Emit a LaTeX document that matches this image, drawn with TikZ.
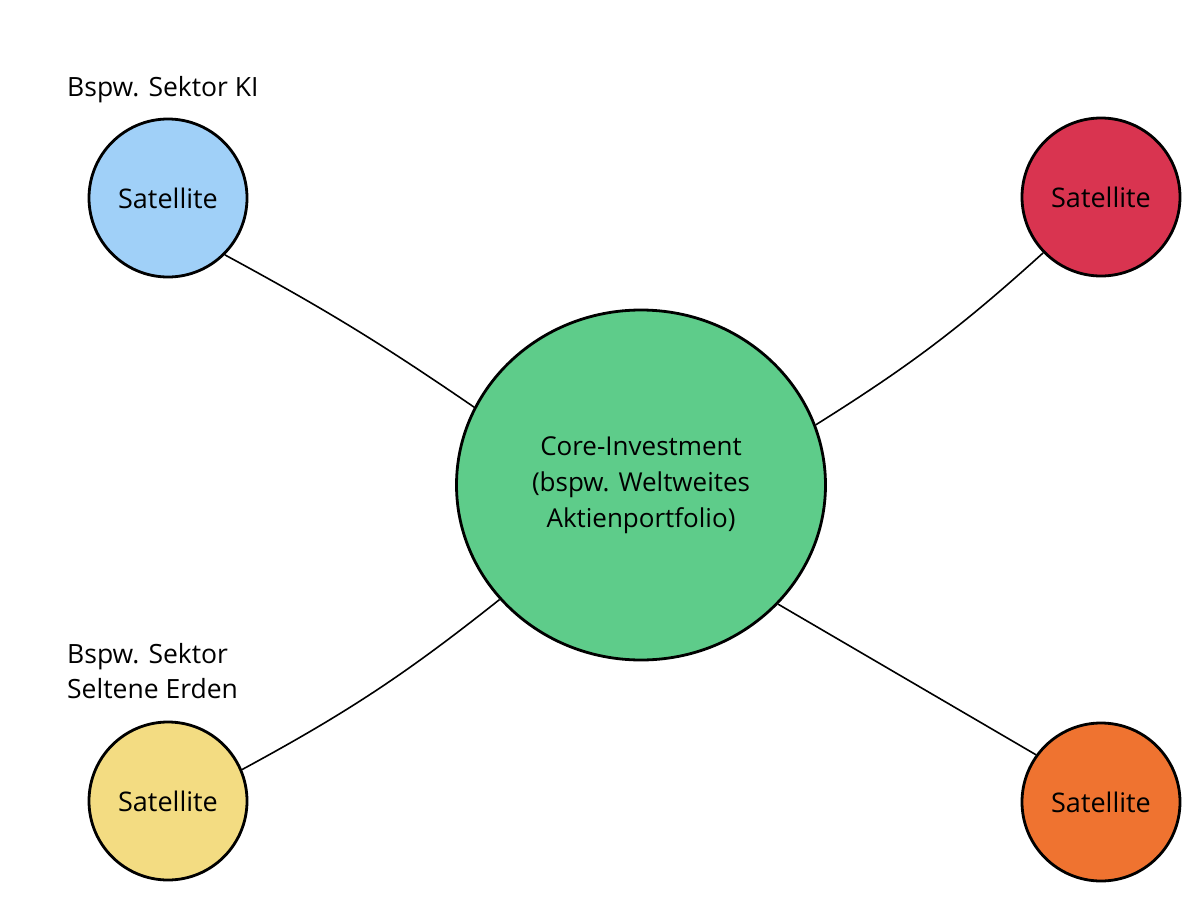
\documentclass[tikz,border=0pt]{standalone}
\usepackage{fontspec}
\setmainfont{Open Sans}
\usetikzlibrary{shapes.geometric}
\definecolor{cblue}{HTML}{A0D0F8}
\definecolor{cred}{HTML}{D93450}
\definecolor{cgreen}{HTML}{5ECC8A}
\definecolor{cyellow}{HTML}{F3DC82}
\definecolor{corange}{HTML}{EF7330}
\begin{document}
\begin{tikzpicture}[x=1pt,y=-1pt,
  sat/.style={circle,draw=black,line width=2.8pt,minimum size=158pt,inner sep=0pt,font=\fontsize{27}{32}\selectfont},
  core/.style={ellipse,draw=black,line width=2.8pt,minimum width=369pt,minimum height=350pt,inner sep=0pt,align=center,font=\fontsize{26}{36}\selectfont},
  lbl/.style={anchor=north west,align=left,inner sep=0pt,font=\fontsize{26.5}{35}\selectfont},
  link/.style={line width=1.6pt,draw=black}]
\useasboundingbox (0,0) rectangle (1200,899);
\node[core,fill=cgreen] (core) at (641,485) {Core-Investment\\(bspw. Weltweites\\Aktienportfolio)};
\node[sat,fill=cblue] (sblue) at (168,198) {Satellite};
\node[sat,fill=cred] (sred) at (1101,197) {Satellite};
\node[sat,fill=cyellow] (syellow) at (168,801) {Satellite};
\node[sat,fill=corange] (sorange) at (1101,802) {Satellite};
\node[lbl] (lki) at (67,76) {Bspw. Sektor KI};
\node[lbl] (lse) at (67,643) {Bspw. Sektor\\Seltene Erden};
\draw[link] (sblue.-45.5) to[bend left=3] (core.155.5);
\draw[link] (sred.224.5) to[bend left=5] (core.19.8);
\draw[link] (syellow.23.4) to[bend right=5] (core.219);
\draw[link] (sorange.144.7) -- (core.-41);
\end{tikzpicture}
\end{document}
